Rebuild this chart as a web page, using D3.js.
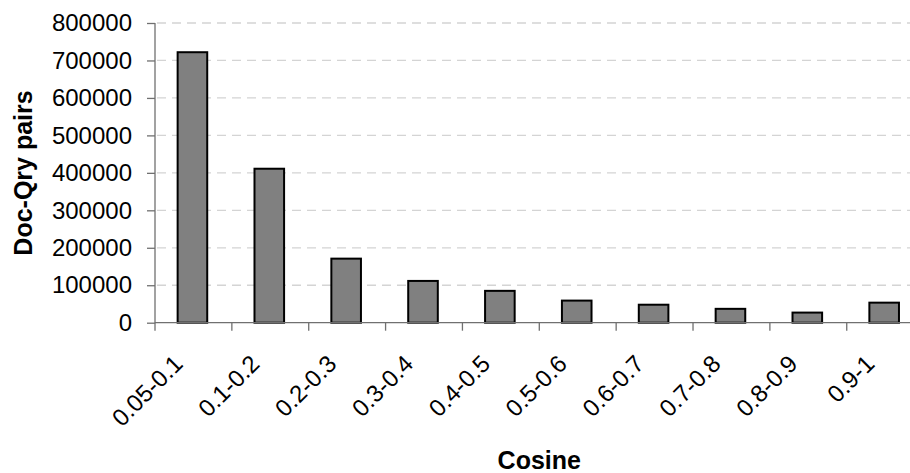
<!DOCTYPE html>
<html>
<head>
<meta charset="utf-8">
<script src="https://cdn.jsdelivr.net/npm/d3@7/dist/d3.min.js"></script>
<style>
  html, body { margin: 0; padding: 0; background: #fff; }
  svg { display: block; font-family: "Liberation Sans", Arial, sans-serif; }
</style>
</head>
<body>
<svg id="chart" width="910" height="473"></svg>
<script>
const categories = ["0.05-0.1", "0.1-0.2", "0.2-0.3", "0.3-0.4", "0.4-0.5", "0.5-0.6", "0.6-0.7", "0.7-0.8", "0.8-0.9", "0.9-1"];
const values = [722000, 411000, 171000, 111500, 85000, 59000, 48000, 37000, 27000, 53500];
const yTicks = [0, 100000, 200000, 300000, 400000, 500000, 600000, 700000, 800000];
const yTitle = "Doc-Qry pairs";
const xTitle = "Cosine";

const svg = d3.select("#chart");
const plotL = 155, plotR = 923.6, plotT = 23, plotB = 322.7;

const x = d3.scaleBand().domain(categories).range([plotL, plotR]).paddingInner(0).paddingOuter(0);
const y = d3.scaleLinear().domain([0, 800000]).range([plotB, plotT]);

// gridlines
svg.append("g").selectAll("line").data(yTicks.filter(d => d > 0)).join("line")
  .attr("x1", plotL + 2).attr("x2", plotR)
  .attr("y1", d => y(d)).attr("y2", d => y(d))
  .attr("stroke", "#d4d4d4").attr("stroke-width", 1.3)
  .attr("stroke-dasharray", "9,6");

// bars
const bw = x.bandwidth() * 0.385;
svg.append("g").selectAll("rect").data(values).join("rect")
  .attr("x", (d, i) => x(categories[i]) + x.bandwidth() / 2 - bw / 2 - 1)
  .attr("y", d => y(d))
  .attr("width", bw)
  .attr("height", d => plotB - y(d))
  .attr("fill", "#808080")
  .attr("stroke", "#000")
  .attr("stroke-width", 2);

// y axis
const yAxis = svg.append("g").attr("transform", `translate(${plotL},0)`)
  .call(d3.axisLeft(y).tickValues(yTicks).tickFormat(d3.format("d")).tickSize(8).tickPadding(15));
yAxis.select(".domain").attr("stroke", "#707070").attr("stroke-width", 1.3).attr("d", `M0,${plotB + 0.5}V${plotT}`);
yAxis.selectAll(".tick line").attr("stroke", "#707070").attr("stroke-width", 1.3);
yAxis.selectAll(".tick text").attr("font-size", 24).attr("fill", "#000").attr("font-family", "Liberation Sans, Arial, sans-serif");

// x axis
const xAxis = svg.append("g").attr("transform", `translate(0,${plotB})`);
xAxis.append("line").attr("x1", plotL).attr("x2", plotR).attr("y1", 0).attr("y2", 0)
  .attr("stroke", "#707070").attr("stroke-width", 1.3);
const boundaries = categories.map(c => x(c)).concat([plotR]);
xAxis.selectAll("line.tk").data(boundaries).join("line").attr("class", "tk")
  .attr("x1", d => d).attr("x2", d => d).attr("y1", 0).attr("y2", 8)
  .attr("stroke", "#707070").attr("stroke-width", 1.3);
xAxis.selectAll("text").data(categories).join("text")
  .attr("transform", d => `translate(${x(d) + x.bandwidth() / 2 - 22},${30}) rotate(-45)`)
  .attr("text-anchor", "end")
  .attr("dy", "0.75em")
  .attr("font-size", 24)
  .attr("fill", "#000")
  .text(d => d);

// titles
svg.append("text")
  .attr("transform", `translate(32,173) rotate(-90)`)
  .attr("text-anchor", "middle")
  .attr("font-size", 25).attr("font-weight", "bold")
  .text(yTitle);

svg.append("text")
  .attr("x", (plotL + plotR) / 2).attr("y", 469)
  .attr("text-anchor", "middle")
  .attr("font-size", 25).attr("font-weight", "bold")
  .text(xTitle);
</script>
</body>
</html>
